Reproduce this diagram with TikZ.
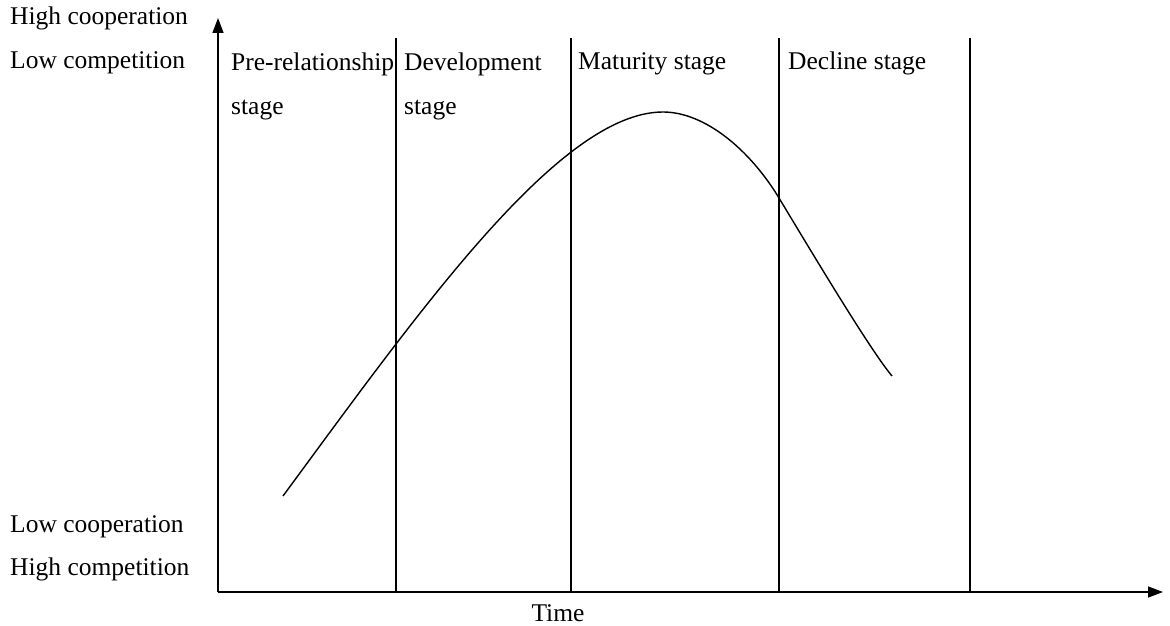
\documentclass[tikz,border=0pt]{standalone}
\usepackage{fontspec}
\setmainfont{Liberation Serif}
\usetikzlibrary{arrows.meta}
\begin{document}
\begin{tikzpicture}[x=1pt,y=-1pt,
  lbl/.style={anchor=base west,inner sep=0pt,font=\fontsize{25.5}{44}\selectfont,align=left},
  axis/.style={line width=1.4pt,-{Triangle[length=15pt,width=11pt]}},
  divider/.style={line width=1.4pt},
  curve/.style={line width=1.4pt}]
\useasboundingbox (0,0) rectangle (1170,626);
\coordinate (O) at (218,592);
\coordinate (Ytip) at (218,18);
\coordinate (Xtip) at (1163,592);
\draw[axis] (O) -- (Ytip);
\draw[axis] (O) -- (Xtip);
\foreach \n/\x in {d1/396,d2/571,d3/779,d4/970}{
  \coordinate (\n top) at (\x,38);
  \coordinate (\n bot) at (\x,592);
  \draw[divider] (\n top) -- (\n bot);
}
\node[lbl] (hc) at (10,25) {High cooperation};
\node[lbl] (lc) at (10,69) {Low competition};
\node[lbl] (lco) at (10,532) {Low cooperation};
\node[lbl] (hco) at (10,575) {High competition};
\node[lbl] (s1) at (231,114) {Pre-relationship\\stage};
\node[lbl] (s2) at (404,114) {Development\\stage};
\node[lbl] (s3) at (578,70) {Maturity stage};
\node[lbl] (s4) at (788,70) {Decline stage};
\node[lbl,anchor=base] (time) at (558,621) {Time};
\coordinate (cstart) at (283,496);
\coordinate (cpeak) at (663,112);
\coordinate (cmid) at (779,198);
\coordinate (cend) at (892,376);
\draw[curve] (cstart) .. controls (420,310) and (560,112) .. (cpeak)
  .. controls (705,112) and (750,150) .. (cmid)
  .. controls (808,246) and (870,350) .. (cend);
\end{tikzpicture}
\end{document}
